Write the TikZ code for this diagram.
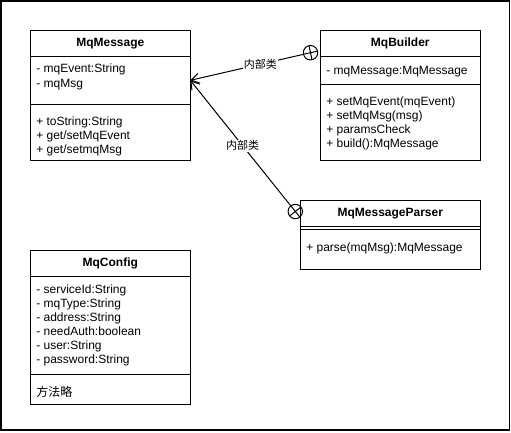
\documentclass[tikz,border=0pt]{standalone}
\usepackage{fontspec}
\setmainfont{Liberation Sans}
\newfontfamily\cjk{Noto Sans CJK SC}
\usetikzlibrary{
	positioning,    % relative placement (below=of ...)
	arrows.meta     % open arrow tip
}
\newcommand{\membersize}{\fontsize{12pt}{14pt}\selectfont}

\begin{document}
\begin{tikzpicture}[
	x=1pt, y=-1pt,
	line width=1pt,
	% Class name compartment
	classtitle/.style={draw, minimum width=160pt, minimum height=26pt,
		inner sep=0pt, outer sep=0pt, font=\bfseries\membersize},
	% Attribute / method compartment
	classpart/.style={draw, minimum width=160pt, inner sep=0pt, outer sep=0pt},
	members/.style={anchor=north west, align=left, inner sep=0pt,
		font=\membersize, execute at begin node=\strut},
	% Circle of the nesting relation
	nested/.style={draw, circle, minimum size=14.4pt, inner sep=0pt, outer sep=0pt},
	innerlink/.style={-{Straight Barb[length=8pt, width=10pt]}},
	linklabel/.style={fill=white, inner sep=1pt, font=\cjk\fontsize{11pt}{13pt}\selectfont}
	]
	
	\useasboundingbox (0,0) rectangle (511,432);
	\draw[line width=1.5pt] (0.75,0.75) rectangle (509.5,430);
	
	% --- MqMessage ---
	\node[classtitle] (msgTitle) at (110.3,43.3) {MqMessage};
	\node[classpart, minimum height=48pt, below=0pt of msgTitle] (msgAttr) {};
	\node[classpart, minimum height=56pt, below=0pt of msgAttr] (msgOps) {};
	\node[members, below right=7.5pt and 5.5pt of msgAttr.north west] (msgAttrText)
	{- mqEvent:String\\- mqMsg};
	\node[members, below right=11.5pt and 5.5pt of msgOps.north west] (msgOpsText)
	{+ toString:String\\+ get/setMqEvent\\+ get/setmqMsg};
	
	% --- MqBuilder ---
	\node[classtitle] (bldTitle) at (400.3,43.3) {MqBuilder};
	\node[classpart, minimum height=28pt, below=0pt of bldTitle] (bldAttr) {};
	\node[classpart, minimum height=76pt, below=0pt of bldAttr] (bldOps) {};
	\node[members, below right=7.5pt and 5.5pt of bldAttr.north west] (bldAttrText)
	{- mqMessage:MqMessage};
	\node[members, below right=11.5pt and 5.5pt of bldOps.north west] (bldOpsText)
	{+ setMqEvent(mqEvent)\\+ setMqMsg(msg)\\+ paramsCheck\\+ build():MqMessage};
	
	% --- MqMessageParser (no attributes) ---
	\node[classtitle, minimum width=180pt] (prsTitle) at (390.3,213.3) {MqMessageParser};
	\node[classpart, minimum width=180pt, minimum height=3.5pt, below=0pt of prsTitle] (prsAttr) {};
	\node[classpart, minimum width=180pt, minimum height=40pt, below=0pt of prsAttr] (prsOps) {};
	\node[members, below right=11.5pt and 5.5pt of prsOps.north west] (prsOpsText)
	{+ parse(mqMsg):MqMessage};
	
	% --- MqConfig ---
	\node[classtitle] (cfgTitle) at (110.3,263.3) {MqConfig};
	\node[classpart, minimum height=98pt, below=0pt of cfgTitle] (cfgAttr) {};
	\node[classpart, minimum height=30pt, below=0pt of cfgAttr] (cfgOps) {};
	\node[members, below right=7.5pt and 5.5pt of cfgAttr.north west] (cfgAttrText)
	{- serviceId:String\\- mqType:String\\- address:String\\- needAuth:boolean\\- user:String\\- password:String};
	\node[members, below right=11.5pt and 5.5pt of cfgOps.north west] (cfgOpsText)
	{\cjk 方法略};
	
	% --- Inner class links ---
	\node[nested] (bldCircle) at (310.5,52.7) {};
	\draw (bldCircle.12.6) -- (bldCircle.192.6) (bldCircle.102.6) -- (bldCircle.282.6);
	\node[nested] (prsCircle) at (295.3,211.5) {};
	\draw (prsCircle.-51.7) -- (prsCircle.128.3) (prsCircle.38.3) -- (prsCircle.218.3);
	
	\draw[innerlink] (bldCircle) -- node[linklabel, pos=0.38] (bldLabel) {内部类} (msgAttr.east);
	\draw[innerlink] (prsCircle) -- node[linklabel, pos=0.48] (prsLabel) {内部类} (msgAttr.east);
	
\end{tikzpicture}
\end{document}
